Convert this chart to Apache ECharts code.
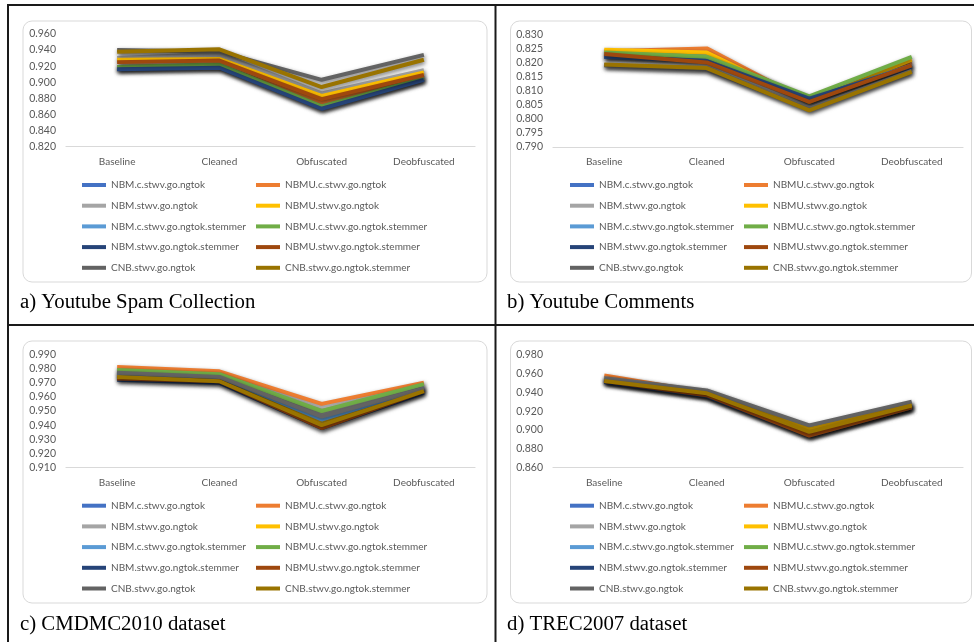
<!DOCTYPE html>
<html>
<head>
<meta charset="utf-8">
<script src="https://cdn.jsdelivr.net/npm/echarts@6/dist/echarts.min.js"></script>
<style>
  html, body { margin: 0; padding: 0; background: #ffffff; }
  #chart { width: 974px; height: 642px; }
</style>
</head>
<body>
<div id="chart"></div>
<script>
// Pipeline stages on the x axis
const categories = ['Baseline', 'Cleaned', 'Obfuscated', 'Deobfuscated'];

// Classifier configurations (one line each)
const seriesNames = [
  'NBM.c.stwv.go.ngtok', 'NBMU.c.stwv.go.ngtok',
  'NBM.stwv.go.ngtok', 'NBMU.stwv.go.ngtok',
  'NBM.c.stwv.go.ngtok.stemmer', 'NBMU.c.stwv.go.ngtok.stemmer',
  'NBM.stwv.go.ngtok.stemmer', 'NBMU.stwv.go.ngtok.stemmer',
  'CNB.stwv.go.ngtok', 'CNB.stwv.go.ngtok.stemmer'
];

// Accuracy per dataset: one row per classifier, one value per stage
const youtubeSpam = [
  [0.917, 0.919, 0.868, 0.904],
  [0.919, 0.921, 0.875, 0.907],
  [0.930, 0.935, 0.886, 0.915],
  [0.928, 0.929, 0.883, 0.912],
  [0.917, 0.919, 0.868, 0.904],
  [0.919, 0.922, 0.870, 0.905],
  [0.916, 0.918, 0.867, 0.903],
  [0.925, 0.927, 0.879, 0.909],
  [0.940, 0.938, 0.903, 0.934],
  [0.938, 0.941, 0.894, 0.928]
];
const youtubeComments = [
  [0.8220, 0.8210, 0.8070, 0.8190],
  [0.8240, 0.8250, 0.8060, 0.8200],
  [0.8190, 0.8180, 0.8040, 0.8170],
  [0.8245, 0.8235, 0.8060, 0.8210],
  [0.8220, 0.8215, 0.8070, 0.8190],
  [0.8235, 0.8220, 0.8080, 0.8220],
  [0.8220, 0.8205, 0.8072, 0.8185],
  [0.8230, 0.8200, 0.8060, 0.8190],
  [0.8190, 0.8175, 0.8035, 0.8170],
  [0.8193, 0.8180, 0.8030, 0.8167]
];
const cmdmc2010 = [
  [0.976, 0.974, 0.945, 0.966],
  [0.981, 0.978, 0.955, 0.970],
  [0.978, 0.975, 0.950, 0.967],
  [0.974, 0.972, 0.943, 0.965],
  [0.976, 0.974, 0.944, 0.966],
  [0.979, 0.976, 0.950, 0.969],
  [0.972, 0.970, 0.938, 0.963],
  [0.973, 0.971, 0.938, 0.964],
  [0.977, 0.974, 0.946, 0.966],
  [0.974, 0.971, 0.940, 0.964]
];
const trec2007 = [
  [0.953, 0.937, 0.895, 0.924],
  [0.958, 0.940, 0.897, 0.926],
  [0.955, 0.941, 0.903, 0.928],
  [0.954, 0.939, 0.901, 0.927],
  [0.953, 0.937, 0.895, 0.924],
  [0.953, 0.938, 0.896, 0.925],
  [0.951, 0.936, 0.894, 0.924],
  [0.952, 0.937, 0.894, 0.924],
  [0.955, 0.942, 0.905, 0.930],
  [0.952, 0.939, 0.898, 0.926]
];

// Y axis ranges per panel
const yMins = [0.82, 0.79, 0.91, 0.86];
const yMaxs = [0.96, 0.83, 0.99, 0.98];
const yIntervals = [0.02, 0.005, 0.01, 0.02];

const captions = [
  'a) Youtube Spam Collection',
  'b) Youtube Comments',
  'c) CMDMC2010 dataset',
  'd) TREC2007 dataset'
];

const panelData = [youtubeSpam, youtubeComments, cmdmc2010, trec2007];

const palette = ['#4472C4', '#ED7D31', '#A5A5A5', '#FFC000', '#5B9BD5',
                 '#70AD47', '#264478', '#9E480E', '#636363', '#997300'];

// Panel geometry
const gridBoxes = [
  { left: 66, top: 34, width: 409, height: 112.5 },
  { left: 553, top: 34.3, width: 410, height: 112.7 },
  { left: 66, top: 354.3, width: 409, height: 113.4 },
  { left: 553, top: 354.7, width: 410, height: 113 }
];
const legendCols = [[82, 256], [570, 744], [82, 256], [570, 744]];
const legendTops = [179, 179, 499.7, 499.7];
const frames = [
  { x: 23, y: 21, w: 464, h: 261 },
  { x: 510.5, y: 21, w: 461, h: 261 },
  { x: 23, y: 341, w: 464, h: 262 },
  { x: 510.5, y: 341, w: 461, h: 262 }
];
const captionPos = [[20, 303], [507, 303], [20, 624.5], [507, 624.5]];

const labelFont = 'Lato, "Open Sans", sans-serif';
const labelColor = '#595959';

const grid = [], xAxis = [], yAxis = [], series = [], legend = [], graphic = [];

// Table rules
const rule = { stroke: '#1a1a1a', lineWidth: 2 };
graphic.push({ type: 'line', shape: { x1: 7, y1: 5, x2: 974, y2: 5 }, style: rule, z: 10 });
graphic.push({ type: 'line', shape: { x1: 8, y1: 4, x2: 8, y2: 642 }, style: rule, z: 10 });
graphic.push({ type: 'line', shape: { x1: 495.5, y1: 4, x2: 495.5, y2: 642 }, style: rule, z: 10 });
graphic.push({ type: 'line', shape: { x1: 7, y1: 325, x2: 974, y2: 325 }, style: rule, z: 10 });

for (let p = 0; p < 4; p++) {
  grid.push(Object.assign({ containLabel: false }, gridBoxes[p]));
  xAxis.push({
    type: 'category', gridIndex: p, data: categories, boundaryGap: true,
    axisLine: { lineStyle: { color: '#d9d9d9', width: 1.2 } },
    axisTick: { show: false },
    axisLabel: { color: labelColor, fontFamily: labelFont, fontSize: 10, margin: 10 }
  });
  yAxis.push({
    type: 'value', gridIndex: p, min: yMins[p], max: yMaxs[p], interval: yIntervals[p],
    axisLine: { show: false }, axisTick: { show: false }, splitLine: { show: false },
    axisLabel: {
      color: labelColor, fontFamily: labelFont, fontSize: 10.5, margin: 10,
      formatter: v => v.toFixed(3)
    }
  });
  panelData[p].forEach((row, i) => {
    series.push({
      name: seriesNames[i], type: 'line', xAxisIndex: p, yAxisIndex: p,
      data: row, symbol: 'none', silent: true,
      itemStyle: { color: palette[i] },
      lineStyle: {
        color: palette[i], width: 4,
        shadowColor: 'rgba(0,0,0,0.55)', shadowBlur: 4, shadowOffsetX: 1, shadowOffsetY: 2
      }
    });
  });
  for (let c = 0; c < 2; c++) {
    legend.push({
      orient: 'vertical', left: legendCols[p][c], top: legendTops[p],
      data: seriesNames.filter((_, i) => i % 2 === c),
      icon: 'rect', itemWidth: 24, itemHeight: 4, itemGap: 8.7,
      selectedMode: false, padding: 0,
      itemStyle: { shadowBlur: 0, shadowOffsetX: 0, shadowOffsetY: 0 },
      textStyle: { color: labelColor, fontFamily: labelFont, fontSize: 10, lineHeight: 12 }
    });
  }
  const f = frames[p];
  graphic.push({
    type: 'rect', z: -1,
    shape: { x: f.x, y: f.y, width: f.w, height: f.h, r: 9 },
    style: { fill: '#ffffff', stroke: '#d9d9d9', lineWidth: 1 }
  });
  graphic.push({
    type: 'text', z: 10, x: captionPos[p][0], y: captionPos[p][1],
    style: {
      text: captions[p], fill: '#000000',
      font: '20.8px "Liberation Serif", "Times New Roman", serif',
      verticalAlign: 'middle', align: 'left'
    }
  });
}

const chart = echarts.init(document.getElementById('chart'));
chart.setOption({
  animation: false,
  backgroundColor: '#ffffff',
  grid, xAxis, yAxis, series, legend, graphic
});
</script>
</body>
</html>
